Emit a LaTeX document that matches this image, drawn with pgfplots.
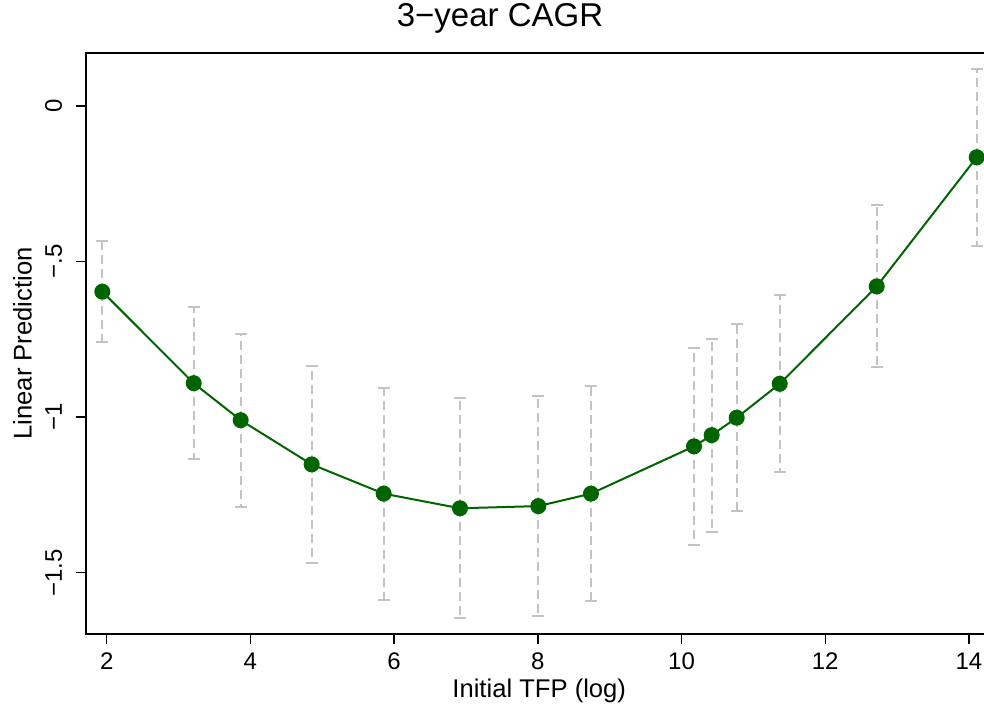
\documentclass[border=0pt]{standalone}
\usepackage{fontspec}
\setmainfont{Liberation Sans}
\usepackage{pgfplots}
\usepackage{pgfplotstable}
\pgfplotsset{compat=1.18}
\definecolor{dkg}{RGB}{0,100,0}
\definecolor{cig}{RGB}{195,195,195}
\pgfplotstableread{
x y top bot
1.939 -0.597 -0.434 -0.760
3.211 -0.891 -0.645 -1.136
3.865 -1.010 -0.733 -1.288
4.853 -1.152 -0.837 -1.468
5.855 -1.246 -0.906 -1.588
6.917 -1.293 -0.940 -1.647
8.007 -1.286 -0.931 -1.638
8.740 -1.246 -0.900 -1.590
10.174 -1.094 -0.779 -1.411
10.420 -1.058 -0.750 -1.368
10.768 -1.002 -0.702 -1.302
11.367 -0.893 -0.608 -1.177
12.717 -0.580 -0.318 -0.839
14.109 -0.165 0.119 -0.449
}\data
\begin{document}
\begin{tikzpicture}
\begin{axis}[
  at={(0,0)}, anchor=south west,
  scale only axis, width=449pt, height=290.5pt,
  xmin=1.712, xmax=14.21, ymin=-1.697, ymax=0.170,
  clip=false,
  axis line style={draw=none},
  xtick={2,4,6,8,10,12,14}, xticklabels={2,4,6,8,10,12,14},
  ytick={-1.5,-1,-0.5,0}, yticklabels={−1.5,−1,−.5,0},
  tick align=outside, xtick pos=bottom, ytick pos=left,
  major tick length=5pt,
  tick style={black, line width=0.7pt},
  ticklabel style={font=\fontsize{12pt}{14pt}\selectfont},
  xticklabel style={anchor=base, yshift=-12.65pt},
  yticklabel style={xshift=-7pt, rotate=90, anchor=base},
  title={3−year CAGR},
  title style={at={(0.461,1.0253)}, anchor=base, inner sep=0pt, font=\fontsize{16.5pt}{19pt}\selectfont},
  xlabel={Initial TFP (log)},
  xlabel style={at={(0.5047,-0.10895)}, anchor=base, inner sep=0pt, font=\fontsize{12.8pt}{15pt}\selectfont},
  ylabel={Linear Prediction},
  ylabel style={at={(-0.06047,0.5)}, anchor=base, rotate=0, inner sep=0pt, font=\fontsize{12.8pt}{15pt}\selectfont},
]
\addplot[draw=none, mark=none,
  error bars/.cd, y dir=both, y explicit,
  error bar style={cig, line width=1pt, dash pattern=on 4.5pt off 2.5pt},
  error mark options={solid, cig, line width=1pt, mark size=3pt, rotate=90}]
  table[x=x, y=y, y error plus expr=\thisrow{top}-\thisrow{y}, y error minus expr=\thisrow{y}-\thisrow{bot}] {\data};
\addplot[dkg, line width=1pt, mark=*, mark size=3.5pt, mark options={fill=dkg, draw=dkg}]
  table[x=x, y=y] {\data};
\draw[black, line width=1pt] (rel axis cs:1,1) -- (rel axis cs:0,1) -- (rel axis cs:0,0) -- (rel axis cs:1,0);
\end{axis}
\pgfresetboundingbox
\path (-43pt,-36pt) rectangle (449pt,317pt);
\end{tikzpicture}
\end{document}
